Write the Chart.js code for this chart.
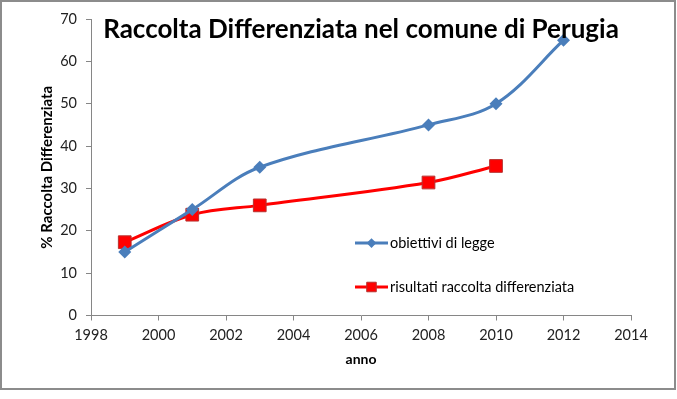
<!DOCTYPE html>
<html lang="it">
<head>
<meta charset="UTF-8">
<title>Raccolta Differenziata nel comune di Perugia</title>
<script src="https://cdn.jsdelivr.net/npm/chart.js@4.4.1/dist/chart.umd.min.js"></script>
<style>
  html, body { margin: 0; padding: 0; background: #fff; }
  #box { width: 677px; height: 399px; }
</style>
</head>
<body>
<div id="box"><canvas id="grafico" width="677" height="399"></canvas></div>
<script>
// dati
var anniObiettivi = [1999, 2001, 2003, 2008, 2010, 2012];
var obiettivi = [15, 25, 35, 45, 50, 65];
var anniRisultati = [1999, 2001, 2003, 2008, 2010];
var risultati = [17.3, 23.8, 26, 31.4, 35.3];
var tickAnni = [1998, 2000, 2002, 2004, 2006, 2008, 2010, 2012, 2014];
var tickPercentuali = [0, 10, 20, 30, 40, 50, 60, 70];

var titolo = 'Raccolta Differenziata nel comune di Perugia';
var nomi = ['obiettivi di legge', 'risultati raccolta differenziata'];

function punti(xs, ys) {
  return xs.map(function (x, i) { return { x: x, y: ys[i] }; });
}

var FONT = 'Lato, "Open Sans", sans-serif';

// cornice, titolo sovrapposto e legenda dentro l'area del grafico (come in Excel)
var extra = {
  id: 'extra',
  beforeDraw: function (chart) {
    var c = chart.ctx;
    c.save();
    c.fillStyle = '#fff';
    c.fillRect(0, 0, chart.width, chart.height);
    c.strokeStyle = '#8c8c8c';
    c.lineWidth = 2;
    c.strokeRect(1, 1, 674, 388);
    c.restore();
  },
  afterDraw: function (chart) {
    var c = chart.ctx;
    var a = chart.chartArea;
    c.save();
    c.fillStyle = '#000';
    c.font = 'bold 26px ' + FONT;
    c.textAlign = 'center';
    c.textBaseline = 'alphabetic';
    c.fillText(titolo, (a.left + a.right) / 2, 38);

    // legenda
    var righe = [243, 287];
    var mx = 371.5;
    chart.data.datasets.forEach(function (ds, i) {
      var y = righe[i];
      c.strokeStyle = ds.borderColor;
      c.lineWidth = 3;
      c.beginPath();
      c.moveTo(355, y);
      c.lineTo(388, y);
      c.stroke();
      c.fillStyle = ds.pointBackgroundColor;
      c.strokeStyle = ds.pointBorderColor;
      c.lineWidth = ds.pointBorderWidth;
      c.beginPath();
      var r = ds.pointRadius * 0.75;
      if (ds.pointStyle === 'rect') {
        var s = r * Math.SQRT1_2;
        c.rect(mx - s, y - s, 2 * s, 2 * s);
      } else {
        c.moveTo(mx, y - r); c.lineTo(mx + r, y);
        c.lineTo(mx, y + r); c.lineTo(mx - r, y);
        c.closePath();
      }
      c.fill();
      if (ds.pointBorderWidth) c.stroke();
      c.fillStyle = '#000';
      c.font = '14.5px ' + FONT;
      c.textAlign = 'left';
      c.textBaseline = 'middle';
      c.fillText(ds.label, 390, y);
    });
    c.restore();
  }
};

new Chart(document.getElementById('grafico'), {
  type: 'scatter',
  data: {
    datasets: [{
      label: nomi[0],
      data: punti(anniObiettivi, obiettivi),
      showLine: true,
      tension: 0.35,
      borderColor: '#4A7EBB',
      borderWidth: 3,
      pointStyle: 'rectRot',
      pointRadius: 6.5,
      pointBackgroundColor: '#4A7EBB',
      pointBorderColor: '#4A7EBB',
      pointBorderWidth: 0
    }, {
      label: nomi[1],
      data: punti(anniRisultati, risultati),
      showLine: true,
      tension: 0.35,
      borderColor: '#FF0000',
      borderWidth: 3,
      pointStyle: 'rect',
      pointRadius: 9,
      pointBackgroundColor: '#FF0000',
      pointBorderColor: '#B8312F',
      pointBorderWidth: 1
    }]
  },
  options: {
    responsive: false,
    animation: false,
    layout: { padding: { left: 0, top: 19, right: 46, bottom: 0 } },
    plugins: { legend: { display: false }, tooltip: { enabled: false }, title: { display: false } },
    scales: {
      x: {
        type: 'linear',
        min: 1998, max: 2014,
        afterBuildTicks: function (s) { s.ticks = tickAnni.map(function (v) { return { value: v }; }); },
        afterFit: function (s) { s.height = 83.5; },
        grid: { display: true, drawOnChartArea: false, drawTicks: true, tickLength: 5, color: '#868686' },
        border: { color: '#868686', width: 1 },
        ticks: {
          color: '#222', font: { family: FONT, size: 14.5 }, padding: 6, maxRotation: 0, autoSkip: false,
          callback: function (v) { return String(v); }
        },
        title: { display: true, text: 'anno', color: '#000', font: { family: FONT, size: 14, weight: 'bold' }, padding: { top: 0, bottom: 31 } }
      },
      y: {
        min: 0, max: 70,
        afterBuildTicks: function (s) { s.ticks = tickPercentuali.map(function (v) { return { value: v }; }); },
        afterFit: function (s) { s.width = 91; },
        grid: { display: true, drawOnChartArea: false, drawTicks: true, tickLength: 5, color: '#868686' },
        border: { color: '#868686', width: 1 },
        ticks: { color: '#222', font: { family: FONT, size: 14.5 }, padding: 9 },
        title: { display: true, text: '% Raccolta Differenziata', color: '#000', font: { family: FONT, size: 15, weight: 'bold' }, padding: { top: 38, bottom: 0 } }
      }
    }
  },
  plugins: [extra]
});
</script>
</body>
</html>
